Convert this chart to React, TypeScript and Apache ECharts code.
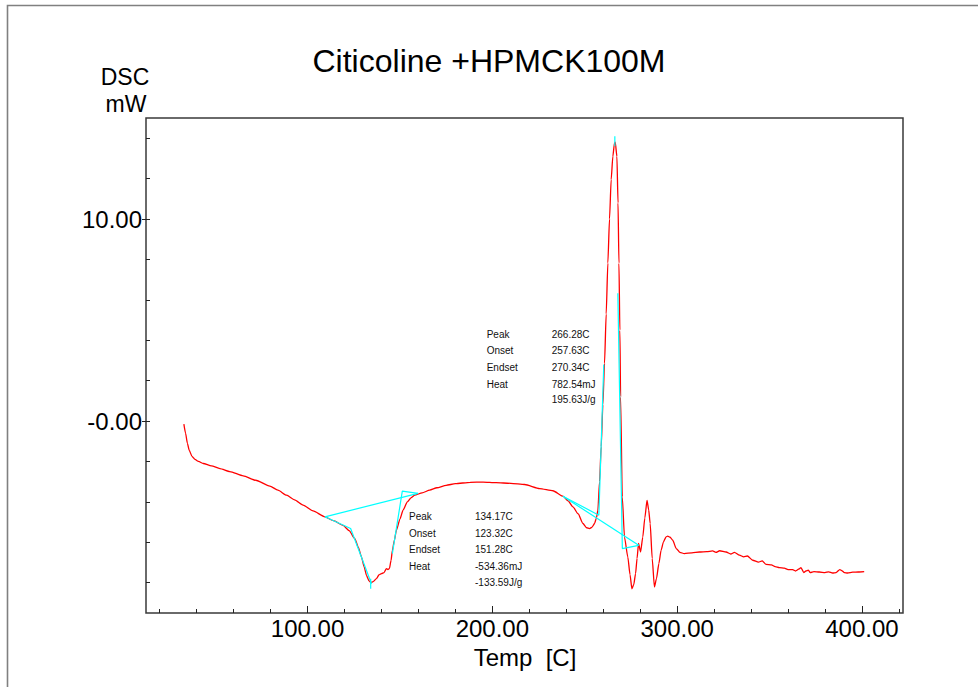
import React, { useEffect, useRef } from "react";
import * as echarts from "echarts";

const chartTitle = "Citicoline +HPMCK100M";
const yUnitLines = ["DSC", "mW"];
const xAxisTitle = "Temp  [C]";

const xMin = 12.6;
const xMax = 422.2;
const yMin = -9.5;
const yMax = 15.0;

const xMajorTicks = [100, 200, 300, 400];
const xMinorTicks = [20, 40, 60, 80, 120, 140, 160, 180, 220, 240, 260, 280, 320, 340, 360, 380, 420];
const yMajorTicks = [0, 10];
const yMinorTicks = [-8, -6, -4, -2, 0, 2, 4, 6, 8, 10, 12, 14];

// DSC curve: [temperature C, heat flow mW]
const dscCurve: [number, number][] = [
  [33.1, -0.15], [34.0, -0.6], [35.0, -1.1], [36.0, -1.45], [37.5, -1.75], [39.1, -1.9],
  [41, -2.0], [43.6, -2.1], [48, -2.22], [52.6, -2.35], [58, -2.5], [65.2, -2.71],
  [72, -2.93], [79.6, -3.22], [84, -3.42], [88.6, -3.67], [93, -3.9], [97.6, -4.16],
  [103, -4.45], [109.4, -4.74], [114, -4.93], [119.2, -5.16], [122.5, -5.42], [125.6, -5.82],
  [127.5, -6.25], [129.2, -6.73], [130.6, -7.2], [131.9, -7.64], [133.2, -7.9], [134.3, -8.0],
  [135.5, -7.95], [137.3, -7.8], [138.6, -7.62], [140, -7.55], [141.4, -7.5], [142.7, -7.3],
  [143.5, -7.35], [144.3, -7.3], [145.2, -6.9], [145.9, -6.4], [147, -5.9], [148.1, -5.4],
  [150, -4.85], [151.7, -4.41], [154, -4.0], [156, -3.8], [158, -3.67], [162, -3.55],
  [166.1, -3.42], [170, -3.3], [175, -3.18], [180, -3.1], [188, -3.03], [195, -3.02],
  [202, -3.05], [210, -3.08], [217.5, -3.14], [225.6, -3.34], [232.8, -3.45], [238.2, -3.72],
  [241, -3.95], [243.6, -4.25], [246.5, -4.6], [249, -5.07], [251, -5.28], [252.6, -5.32],
  [254, -5.25], [255.3, -5.07], [256.3, -4.8], [257.1, -4.41], [258, -3.0], [258.9, -1.27],
  [259.8, 0.8], [260.7, 2.86], [261.6, 5.3], [262.5, 7.82], [263.4, 10.0], [264.3, 11.95],
  [265.2, 13.1], [266.1, 13.77], [266.5, 13.8], [267.4, 13.1], [268, 10.8], [268.5, 7.82],
  [269, 4.5], [269.4, 1.2], [270.3, -3.75], [271.5, -5.74], [273.3, -6.73], [274.5, -7.6],
  [275.5, -8.3], [276.5, -8.1], [277.5, -7.55], [278.3, -6.8], [279.1, -6.06], [280.2, -6.48],
  [281.4, -5.74], [282.5, -4.8], [283.7, -3.93], [284.6, -4.4], [285.4, -5.07], [286.5, -6.8],
  [287.7, -8.21], [288.8, -7.8], [290.1, -7.06], [291.3, -6.4], [292.6, -5.98], [294, -5.73],
  [294.9, -5.7], [296.2, -5.75], [297.6, -5.9], [299.5, -6.31], [301.5, -6.5], [303.9, -6.56],
  [308, -6.52], [312.1, -6.48], [316, -6.46], [319.2, -6.43], [321, -6.5], [323, -6.42],
  [326.5, -6.48], [329, -6.58], [331, -6.5], [333.7, -6.64], [336, -6.72], [338, -6.68],
  [340.9, -6.89], [344, -6.98], [346, -6.92], [348.1, -7.09], [351, -7.12], [353, -7.2],
  [355.3, -7.25], [358, -7.28], [360, -7.35], [362.5, -7.35], [364, -7.42], [366, -7.32],
  [367, -7.25], [368.5, -7.5], [369.7, -7.42], [371, -7.38], [372, -7.5], [374, -7.45],
  [376.9, -7.47], [380, -7.5], [382, -7.46], [384.1, -7.52], [386, -7.5], [388, -7.35],
  [389, -7.4], [390.5, -7.5], [392.2, -7.52], [395, -7.48], [398, -7.47], [401.2, -7.45],
];

// Analysis construction lines (cyan)
const peak1Baseline: [number, number][] = [[109.4, -4.74], [159.8, -3.58]];
const peak1Onset: [number, number][] = [[109.4, -4.74], [123.32, -5.32], [134.6, -8.05]];
const peak1Endset: [number, number][] = [[145.9, -6.56], [151.28, -3.47], [159.8, -3.58]];
const peak1Mark: [number, number][] = [[134.17, -7.8], [134.17, -8.3]];

const peak2Baseline: [number, number][] = [[238.2, -3.72], [279.2, -6.15]];
const peak2Onset: [number, number][] = [[238.2, -3.72], [257.63, -4.66], [260.3, 2.8]];
const peak2Endset: [number, number][] = [[267.9, 6.33], [270.34, -6.31], [279.2, -6.15]];
const peak2Mark: [number, number][] = [[266.28, 13.6], [266.28, 14.1]];

const peak1Labels = ["Peak", "Onset", "Endset", "Heat", ""];
const peak1Values = ["134.17C", "123.32C", "151.28C", "-534.36mJ", "-133.59J/g"];
const peak2Labels = ["Peak", "Onset", "Endset", "Heat", ""];
const peak2Values = ["266.28C", "257.63C", "270.34C", "782.54mJ", "195.63J/g"];

const FONT = "'Liberation Sans', Arial, Helvetica, sans-serif";
const RED = "#ff0000";
const CYAN = "#00ffff";

function annotation(labels: string[], values: string[], x0: number, x1: number, rows: number[]) {
  const els: any[] = [];
  labels.forEach((l, i) => {
    if (l) {
      els.push({
        type: "text",
        x: x0,
        y: rows[i],
        style: { text: l, fontSize: 10, fontFamily: FONT, fill: "#111", verticalAlign: "middle" },
      });
    }
    els.push({
      type: "text",
      x: x1,
      y: rows[i],
      style: { text: values[i], fontSize: 10, fontFamily: FONT, fill: "#111", verticalAlign: "middle" },
    });
  });
  return els;
}

function cyanSeries(data: [number, number][]) {
  return {
    type: "line",
    data,
    showSymbol: false,
    silent: true,
    lineStyle: { color: CYAN, width: 1.2 },
    z: 3,
  };
}

export default function App() {
  const ref = useRef<HTMLDivElement>(null);
  useEffect(() => {
    document.body.style.margin = "0";
    if (!ref.current) return;
    const chart = echarts.init(ref.current, null, { renderer: "svg" });
    const axisFont = { fontSize: 24, fontFamily: FONT, color: "#000" };
    chart.setOption({
      animation: false,
      backgroundColor: "#fff",
      title: {
        text: chartTitle,
        left: "center",
        top: 40,
        textStyle: { fontSize: 32, fontWeight: "normal", fontFamily: FONT, color: "#000" },
      },
      grid: {
        left: 146,
        top: 118,
        right: 75,
        bottom: 74,
        show: true,
        borderColor: "#3a3a3a",
        borderWidth: 1.5,
        backgroundColor: "transparent",
      },
      xAxis: [
        {
          type: "value",
          min: xMin,
          max: xMax,
          position: "bottom",
          axisLine: { show: false, onZero: false },
          splitLine: { show: false },
          axisTick: { show: true, inside: true, length: 7, customValues: xMajorTicks, lineStyle: { color: "#222" } },
          axisLabel: { ...axisFont, margin: 3, customValues: xMajorTicks, formatter: (v: number) => v.toFixed(2) },
        },
        {
          type: "value",
          min: xMin,
          max: xMax,
          position: "bottom",
          axisLine: { show: false, onZero: false },
          splitLine: { show: false },
          axisTick: { show: true, inside: true, length: 4, customValues: xMinorTicks, lineStyle: { color: "#222" } },
          axisLabel: { show: false },
        },
      ],
      yAxis: [
        {
          type: "value",
          min: yMin,
          max: yMax,
          position: "left",
          axisLine: { show: false, onZero: false },
          splitLine: { show: false },
          axisTick: { show: true, inside: false, length: 4, customValues: yMajorTicks, lineStyle: { color: "#222" } },
          axisLabel: {
            ...axisFont,
            margin: 4,
            customValues: yMajorTicks,
            formatter: (v: number) => (v === 0 ? "-0.00" : v.toFixed(2)),
          },
        },
        {
          type: "value",
          min: yMin,
          max: yMax,
          position: "left",
          axisLine: { show: false, onZero: false },
          splitLine: { show: false },
          axisTick: { show: true, inside: true, length: 4, customValues: yMinorTicks, lineStyle: { color: "#222" } },
          axisLabel: { show: false },
        },
      ],
      series: [
        {
          type: "line",
          data: dscCurve,
          showSymbol: false,
          silent: true,
          smooth: 0.2,
          smoothMonotone: "x",
          lineStyle: { color: RED, width: 1.3 },
          z: 2,
        },
        cyanSeries(peak1Baseline),
        cyanSeries(peak1Onset),
        cyanSeries(peak1Endset),
        cyanSeries(peak1Mark),
        cyanSeries(peak2Baseline),
        cyanSeries(peak2Onset),
        cyanSeries(peak2Endset),
        cyanSeries(peak2Mark),
      ],
      graphic: [
        {
          type: "rect",
          shape: { x: 7.5, y: 5.5, width: 1100, height: 1100 },
          style: { fill: "none", stroke: "#808080", lineWidth: 1.6 },
          silent: true,
        },
        {
          type: "text",
          x: 125,
          y: 77,
          style: { text: yUnitLines[0], fontSize: 23, fontFamily: FONT, fill: "#000", align: "center", verticalAlign: "middle" },
        },
        {
          type: "text",
          x: 126,
          y: 104,
          style: { text: yUnitLines[1], fontSize: 23, fontFamily: FONT, fill: "#000", align: "center", verticalAlign: "middle" },
        },
        {
          type: "text",
          x: 525,
          y: 657,
          style: { text: xAxisTitle, fontSize: 24, fontFamily: FONT, fill: "#000", align: "center", verticalAlign: "middle" },
        },
        ...annotation(peak2Labels, peak2Values, 486.7, 551.7, [334, 350.7, 367, 384, 399.3]),
        ...annotation(peak1Labels, peak1Values, 409, 475, [516, 533.3, 549.5, 566.7, 582]),
      ],
    });
    return () => chart.dispose();
  }, []);
  return <div ref={ref} style={{ width: 978, height: 687 }} />;
}
